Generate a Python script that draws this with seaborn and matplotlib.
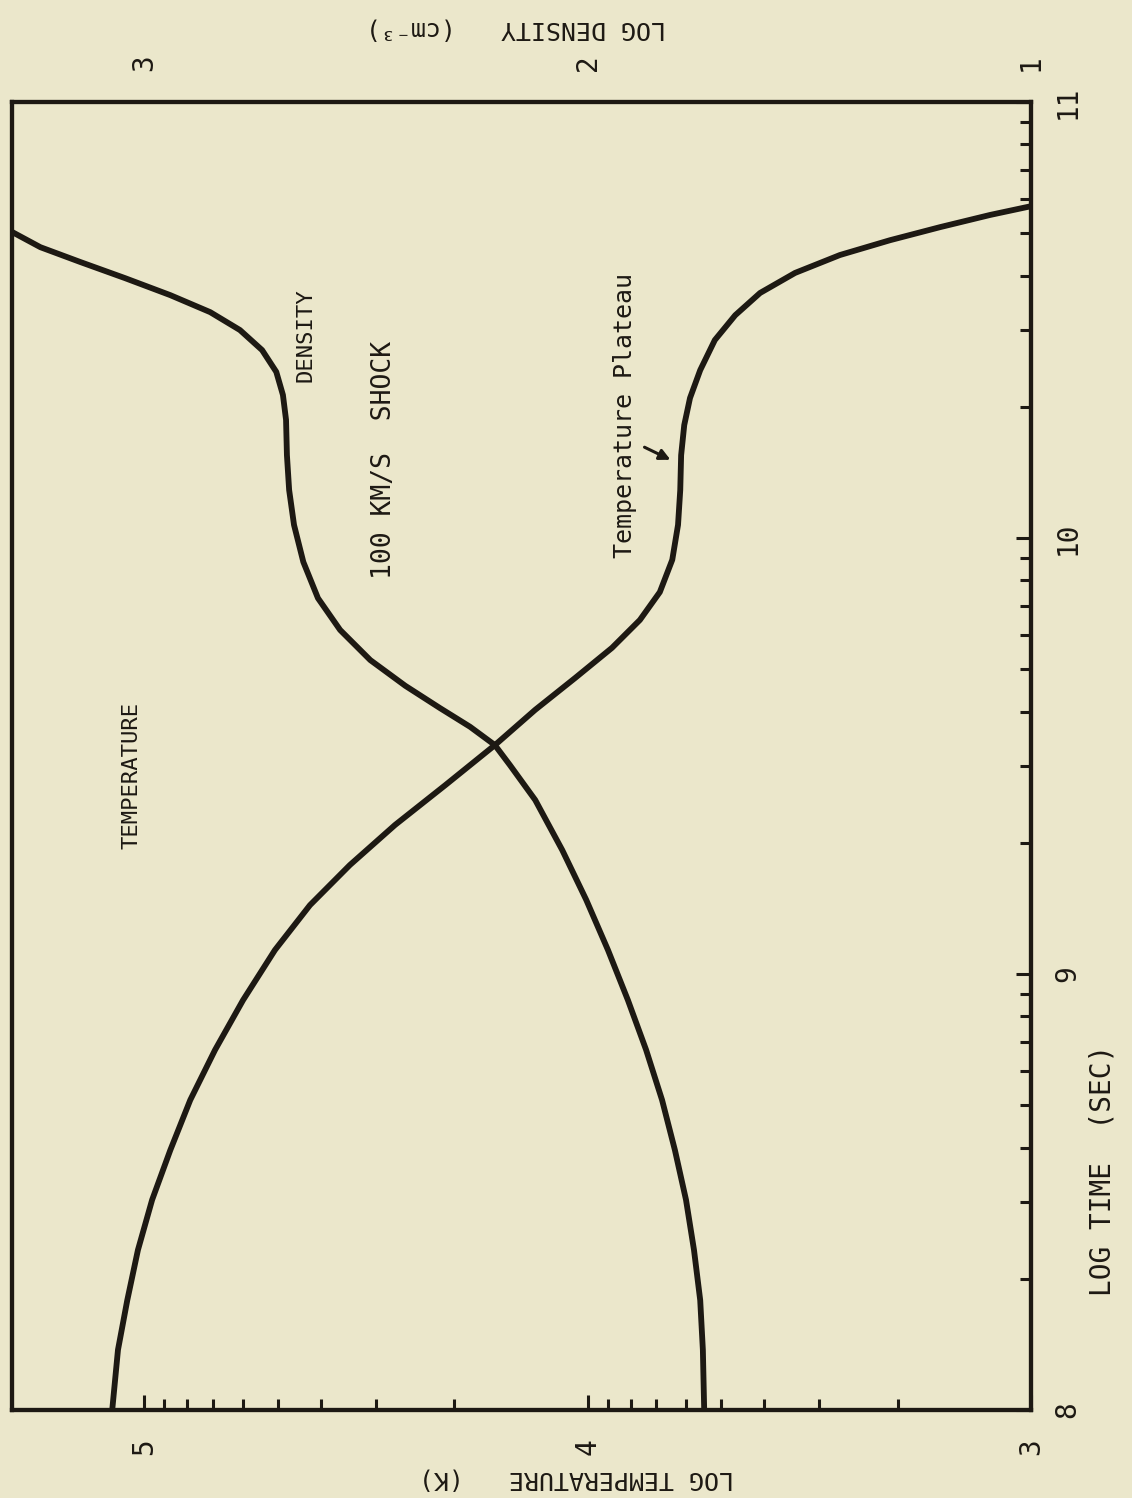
import numpy as np
import pandas as pd
import matplotlib
matplotlib.use("Agg")
import matplotlib.pyplot as plt
import seaborn as sns
from matplotlib.ticker import FixedLocator

# ---------------- data ----------------
# log time (s) and log temperature (K)
time_T = [8.000, 8.138, 8.252, 8.367, 8.482, 8.596, 8.711, 8.826, 8.940,
          9.055, 9.158, 9.250, 9.342, 9.433, 9.525, 9.606, 9.679, 9.748,
          9.812, 9.876, 9.950, 10.030, 10.110, 10.190, 10.259, 10.321,
          10.385, 10.454, 10.511, 10.562, 10.608, 10.649, 10.683, 10.713,
          10.741, 10.761]
log_T = [5.072, 5.059, 5.038, 5.014, 4.982, 4.941, 4.896, 4.840, 4.777,
         4.705, 4.626, 4.536, 4.434, 4.321, 4.209, 4.118, 4.028, 3.945,
         3.882, 3.837, 3.809, 3.796, 3.791, 3.789, 3.782, 3.769,
         3.746, 3.713, 3.667, 3.611, 3.532, 3.431, 3.318, 3.205,
         3.092, 3.000]
# log time (s) and log density (cm^-3)
time_n = [8.000, 8.138, 8.252, 8.367, 8.482, 8.596, 8.711, 8.826, 8.940,
          9.055, 9.170, 9.284, 9.399, 9.479, 9.525, 9.567, 9.610, 9.661,
          9.720, 9.789, 9.862, 9.945, 10.030, 10.110, 10.190, 10.271,
          10.328, 10.381, 10.431, 10.477, 10.518, 10.557, 10.596, 10.633,
          10.667, 10.702]
log_n = [1.737, 1.740, 1.746, 1.760, 1.778, 1.803, 1.832, 1.868, 1.909,
         1.954, 2.003, 2.057, 2.118, 2.175, 2.209, 2.265, 2.333, 2.411,
         2.490, 2.558, 2.608, 2.641, 2.662, 2.673, 2.678, 2.680,
         2.687, 2.702, 2.734, 2.784, 2.851, 2.941, 3.043, 3.144,
         3.234, 3.298]

time_ticks = [8, 9, 10, 11]
temp_ticks = [3, 4, 5]
dens_ticks = [1, 2, 3]

# ---------------- style ----------------
BG = "#ebe7cb"
INK = "#1d1913"
sns.set_theme(style="white")
plt.rcParams["font.family"] = ["DejaVu Sans Mono", "DejaVu Sans"]

W, H = 1132, 1498
fig = plt.figure(figsize=(W / 100, H / 100), dpi=100, facecolor=BG)


def fx(x):
    return x / W


def fy(y):
    return 1 - y / H


L, R, T, B = 12, 1031, 102, 1410
ax = fig.add_axes([fx(L), fy(B), (R - L) / W, (B - T) / H])
ax.set_facecolor(BG)

dfT = pd.DataFrame({"time": time_T, "logT": log_T})
sns.lineplot(data=dfT, x="logT", y="time", sort=False, estimator=None,
             color=INK, lw=4.2, ax=ax)
ax.set_xlim(5.298, 3.0)
ax.set_ylim(8, 11)

axd = ax.twiny()
dfn = pd.DataFrame({"time": time_n, "logn": log_n})
sns.lineplot(data=dfn, x="logn", y="time", sort=False, estimator=None,
             color=INK, lw=4.2, ax=axd)
axd.set_xlim(3.298, 1.0)
axd.set_ylim(8, 11)

for a in (ax, axd):
    a.set_xlabel("")
    a.set_ylabel("")
    for s in a.spines.values():
        s.set_color(INK)
        s.set_linewidth(3.0)
    for ln in a.get_lines():
        ln.set_solid_capstyle("round")
        ln.set_solid_joinstyle("round")


def minor_positions(lo, hi):
    out = []
    for d in range(int(np.floor(lo)), int(np.ceil(hi)) + 1):
        for k in range(2, 10):
            v = d + np.log10(k)
            if lo < v < hi:
                out.append(v)
    return out


# temperature axis (bottom)
ax.xaxis.set_major_locator(FixedLocator(temp_ticks))
ax.xaxis.set_minor_locator(FixedLocator(minor_positions(3, 5.298)))
ax.set_xticklabels([str(v) for v in temp_ticks])
ax.tick_params(axis="x", which="both", direction="in", bottom=True, top=False,
               color=INK, width=2.2, labelsize=20, labelcolor=INK,
               labelrotation=90, pad=20)
ax.tick_params(axis="x", which="major", length=11)
ax.tick_params(axis="x", which="minor", length=8)

# time axis (right)
ax.yaxis.set_major_locator(FixedLocator(time_ticks))
ax.yaxis.set_minor_locator(FixedLocator(minor_positions(8, 11)))
ax.set_yticklabels([str(v) for v in time_ticks])
ax.tick_params(axis="y", which="both", direction="in", left=False, right=True,
               labelleft=False, labelright=True, color=INK, width=2.2,
               labelsize=20, labelcolor=INK, labelrotation=90, pad=16)
ax.tick_params(axis="y", which="major", length=11)
ax.tick_params(axis="y", which="minor", length=8)
for lab in ax.get_yticklabels():
    lab.set_va("center")

# density axis (top): labels only
axd.xaxis.set_major_locator(FixedLocator(dens_ticks))
axd.set_xticklabels([str(v) for v in dens_ticks])
axd.tick_params(axis="x", which="both", length=0, labelsize=20,
                labelcolor=INK, labelrotation=90, pad=22)
axd.tick_params(axis="y", which="both", length=0, labelleft=False,
                labelright=False)

# axis titles (the page is rotated)
fig.text(fx(576), fy(1478), "LOG TEMPERATURE   (K)", rotation=180,
         ha="center", va="center", fontsize=18, color=INK)
fig.text(fx(516), fy(29), "LOG DENSITY   (cm\u207b\u00b3)", rotation=180,
         ha="center", va="center", fontsize=18, color=INK)
fig.text(fx(1103), fy(1170), "LOG TIME  (SEC)", rotation=90,
         ha="center", va="center", fontsize=20, color=INK)

# annotations
fig.text(fx(131), fy(775), "TEMPERATURE", rotation=90, ha="center",
         va="center", fontsize=16, color=INK)
fig.text(fx(305), fy(335), "DENSITY", rotation=90, ha="center",
         va="center", fontsize=16, color=INK)
fig.text(fx(384), fy(460), "100 KM/S  SHOCK", rotation=90, ha="center",
         va="center", fontsize=19, color=INK)
fig.text(fx(625), fy(415), "Temperature Plateau", rotation=90, ha="center",
         va="center", fontsize=18, color=INK)
ax.annotate("", xy=(fx(673), fy(461)), xycoords="figure fraction",
            xytext=(fx(642), fy(446)), textcoords="figure fraction",
            arrowprops=dict(arrowstyle="-|>", color=INK, lw=2.2,
                            mutation_scale=16))

fig.savefig("out.png", dpi=100, facecolor=BG)
